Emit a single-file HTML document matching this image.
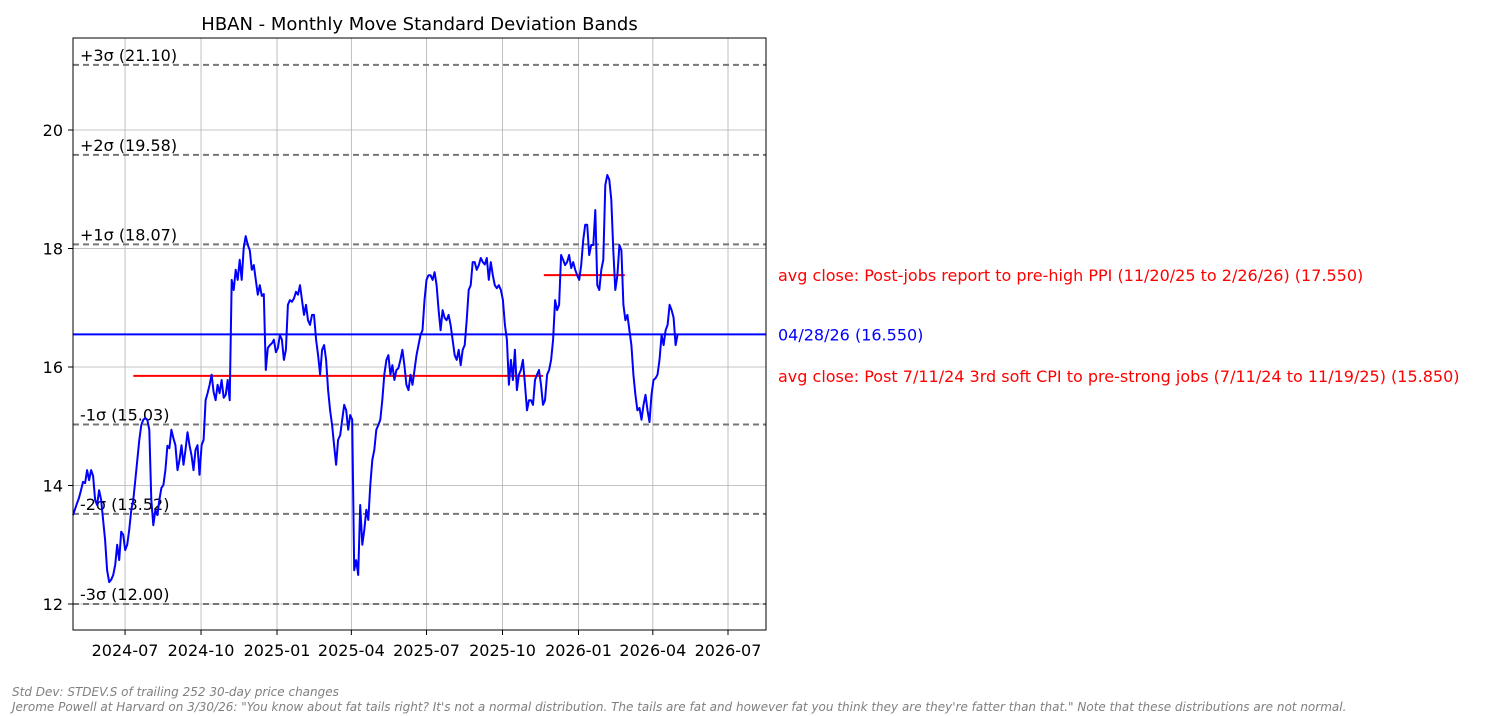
<!DOCTYPE html>
<html><head><meta charset="utf-8">
<style>
body{margin:0;background:#fff;width:1493px;height:716px;overflow:hidden;font-family:"DejaVu Sans","Liberation Sans",sans-serif}
svg{position:absolute;left:0;top:0;font-family:"DejaVu Sans","Liberation Sans",sans-serif}
.note{position:absolute;left:12px;font-size:12px;font-style:italic;color:#808080;white-space:nowrap}
</style></head><body>
<svg id="chart" width="1493" height="716"></svg>
<div class="note" style="top:685px">Std Dev: STDEV.S of trailing 252 30-day price changes</div>
<div class="note" style="top:700px">Jerome Powell at Harvard on 3/30/26: "You know about fat tails right? It's not a normal distribution. The tails are fat and however fat you think they are they're fatter than that." Note that these distributions are not normal.</div>
<script>
const startDate = '2024-04-29';
const endDate = '2026-05-01';
const prices = [13.50,13.60,13.70,13.79,13.92,14.06,14.04,14.26,14.09,14.26,14.16,13.76,13.67,13.92,13.76,13.42,13.08,12.57,12.37,12.41,12.49,12.66,13.00,12.74,13.22,13.17,12.91,13.00,13.25,13.59,13.76,14.09,14.43,14.77,15.02,15.11,15.14,15.11,14.94,13.76,13.33,13.59,13.50,13.76,13.96,14.01,14.26,14.67,14.63,14.94,14.80,14.68,14.26,14.43,14.68,14.35,14.60,14.90,14.68,14.51,14.26,14.60,14.68,14.18,14.68,14.77,15.44,15.56,15.70,15.87,15.58,15.44,15.70,15.56,15.78,15.48,15.53,15.78,15.44,17.47,17.30,17.64,17.47,17.81,17.47,18.01,18.21,18.06,17.97,17.64,17.72,17.47,17.22,17.38,17.20,17.23,15.95,16.32,16.37,16.40,16.46,16.25,16.32,16.54,16.46,16.12,16.29,17.05,17.13,17.10,17.16,17.27,17.22,17.38,17.13,16.88,17.05,16.79,16.71,16.88,16.88,16.46,16.20,15.87,16.29,16.37,16.12,15.61,15.27,15.02,14.68,14.35,14.77,14.85,15.11,15.36,15.27,14.94,15.19,15.11,12.57,12.74,12.49,13.67,13.00,13.25,13.59,13.42,14.01,14.43,14.60,14.94,15.02,15.11,15.44,15.87,16.12,16.20,15.87,16.03,15.78,15.95,15.98,16.12,16.29,16.03,15.70,15.61,15.87,15.70,15.95,16.20,16.37,16.54,16.62,17.13,17.47,17.55,17.55,17.47,17.60,17.38,16.96,16.62,16.96,16.83,16.79,16.88,16.71,16.46,16.20,16.12,16.29,16.03,16.29,16.37,16.79,17.30,17.38,17.77,17.77,17.64,17.72,17.84,17.77,17.73,17.84,17.47,17.77,17.55,17.38,17.33,17.38,17.30,17.13,16.71,16.46,15.70,16.12,15.78,16.29,15.61,15.87,15.95,16.12,15.70,15.27,15.44,15.44,15.36,15.78,15.87,15.95,15.70,15.36,15.44,15.87,15.95,16.12,16.46,17.13,16.96,17.05,17.89,17.81,17.72,17.77,17.89,17.67,17.77,17.64,17.55,17.47,17.72,18.14,18.40,18.40,17.89,18.06,18.06,18.65,17.38,17.30,17.64,17.81,19.07,19.24,19.16,18.82,17.97,17.30,17.55,18.06,17.97,17.05,16.79,16.88,16.62,16.37,15.87,15.53,15.27,15.31,15.11,15.36,15.53,15.27,15.07,15.53,15.78,15.81,15.87,16.12,16.54,16.37,16.62,16.71,17.05,16.96,16.83,16.37,16.55];
const sigmaLabels = ['+3σ','+2σ','+1σ','-1σ','-2σ','-3σ'];
const sigmaValues = [21.10,19.58,18.07,15.03,13.52,12.00];
const yTicks = [12,14,16,18,20];
const xTicks = ['2024-07-01','2024-10-01','2025-01-01','2025-04-01','2025-07-01','2025-10-01','2026-01-01','2026-04-01','2026-07-01'];
const avgLabels = ['avg close: Post 7/11/24 3rd soft CPI to pre-strong jobs (7/11/24 to 11/19/25) (15.850)','avg close: Post-jobs report to pre-high PPI (11/20/25 to 2/26/26) (17.550)'];
const avgValues = [15.85,17.55];
const avgStarts = ['2024-07-11','2025-11-20'];
const avgEnds = ['2025-11-19','2026-02-26'];
const currentValue = 16.55;
const currentLabel = '04/28/26 (16.550)';

const NS='http://www.w3.org/2000/svg';
const svg=document.getElementById('chart');
const L=73,R=766,T=38,B=630;
const yMin=11.561,yMax=21.553;
const d0=Date.parse('2024-04-29'),d1=Date.parse('2026-08-16');
const X=d=>L+(Date.parse(d)-d0)/(d1-d0)*(R-L);
const Xt=t=>L+(t-d0)/(d1-d0)*(R-L);
const Y=v=>B-(v-yMin)/(yMax-yMin)*(B-T);
function el(tag,attrs,parent){const e=document.createElementNS(NS,tag);for(const k in attrs)e.setAttribute(k,attrs[k]);(parent||svg).appendChild(e);return e;}
function txt(s,attrs){const e=el('text',attrs);e.textContent=s;return e;}

xTicks.forEach(d=>{const x=X(d);
 const g=el('line',{x1:x,x2:x,y1:T,y2:B,stroke:'#b0b0b0','stroke-width':0.8});
 
 
 el('line',{x1:x,x2:x,y1:B,y2:B+5,stroke:'#000'});
 const t=txt(d.slice(0,7),{x:x,y:B+26,'text-anchor':'middle','font-size':16});
 
 
});
yTicks.forEach(v=>{const y=Y(v);
 const g=el('line',{x1:L,x2:R,y1:y,y2:y,stroke:'#b0b0b0','stroke-width':0.8});
 
 
 el('line',{x1:L-5,x2:L,y1:y,y2:y,stroke:'#000'});
 const t=txt(String(v),{x:L-10,y:y+6,'text-anchor':'end','font-size':16});
 
 
});
sigmaValues.forEach((v,i)=>{const y=Y(v);
 const l=el('line',{x1:L,x2:R,y1:y,y2:y,stroke:'#777','stroke-width':2,'stroke-dasharray':'6,4'});
 
 
 const t=txt(sigmaLabels[i]+' ('+v.toFixed(2)+')',{x:L+7,y:y-4,'font-size':16});
 
 
});
const cy=Y(currentValue);
const cl=el('line',{x1:L,x2:R,y1:cy,y2:cy,stroke:'#0000ff','stroke-width':2});


const ct=txt(currentLabel,{x:778,y:cy+6,'font-size':16,fill:'#0000ff'});


avgValues.forEach((v,i)=>{const y=Y(v);
 const l=el('line',{x1:X(avgStarts[i]),x2:X(avgEnds[i]),y1:y,y2:y,stroke:'#ff0000','stroke-width':2});
 
 
 const t=txt(avgLabels[i],{x:778,y:y+6,'font-size':16,fill:'#ff0000'});
 
 
});
const s=Date.parse(startDate),e=Date.parse(endDate),n=prices.length;
const pts=prices.map((v,i)=>Xt(s+(e-s)*i/(n-1)).toFixed(1)+','+Y(v).toFixed(1)).join(' ');
const pl=el('polyline',{points:pts,fill:'none',stroke:'#0000ff','stroke-width':2,'stroke-linejoin':'round'});


const fr=el('rect',{x:L,y:T,width:R-L,height:B-T,fill:'none',stroke:'#000','stroke-width':1});


const ti=txt('HBAN - Monthly Move Standard Deviation Bands',{x:(L+R)/2,y:30,'text-anchor':'middle','font-size':18});


</script>
</body></html>
